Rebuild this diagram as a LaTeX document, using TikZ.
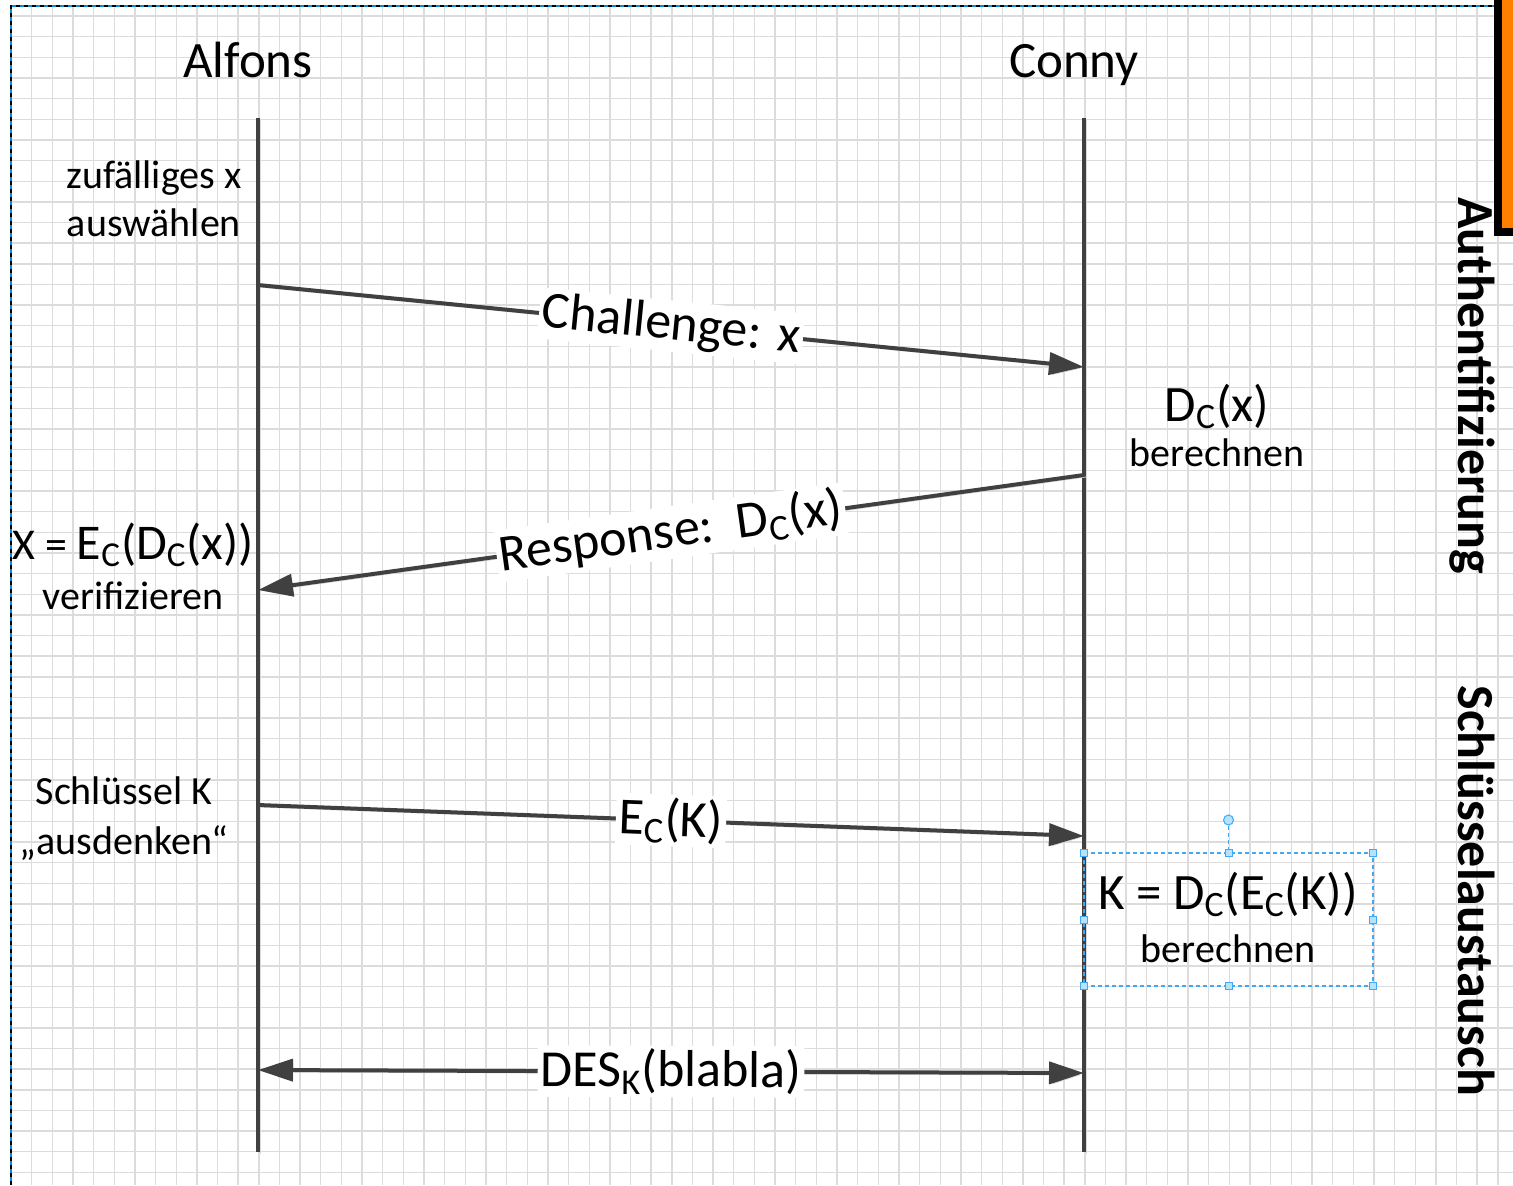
\documentclass[tikz,border=0pt]{standalone}
\usepackage{fontspec}
\setmainfont{Carlito}
\usetikzlibrary{arrows.meta}
\definecolor{lineg}{HTML}{404040}
\definecolor{gridg}{HTML}{DCDCDC}
\definecolor{selblue}{HTML}{3FA9F5}
\definecolor{handlefill}{HTML}{B8E2FA}
\definecolor{barorange}{HTML}{FF7F00}
\newcommand\sbs[1]{\textsubscript{#1}}
\begin{document}
\begin{tikzpicture}[x=0.5pt,y=-0.5pt,
  gridline/.style={draw=gridg, line width=0.7pt},
  shadowed/.style={preaction={draw=black!15, transform canvas={shift={(1pt,-1pt)}}}},
  lifeline/.style={draw=lineg, line width=2.3pt, shadowed},
  msg/.style={draw=lineg, line width=2pt, shadowed, -{Triangle[length=17.5pt,width=11pt]}},
  msgboth/.style={draw=lineg, line width=2pt, shadowed, {Triangle[length=17.5pt,width=11pt]}-{Triangle[length=17.5pt,width=11pt]}},
  lbl/.style={fill=white, inner sep=1.5pt, font=\fontsize{26}{31}\selectfont, sloped, midway},
  actor/.style={font=\fontsize{25.5}{30}\selectfont, anchor=base, inner sep=0pt},
  side/.style={align=center, inner sep=0pt, anchor=south},
  vert/.style={font=\fontsize{26}{31}\selectfont\bfseries, rotate=-90, anchor=base west, inner sep=0pt},
  handle/.style={draw=selblue, fill=handlefill, line width=0.5pt, minimum size=3.5pt, inner sep=0pt, rectangle},
  rothandle/.style={draw=selblue, fill=handlefill, line width=0.5pt, minimum size=5pt, inner sep=0pt, circle},
  selbox/.style={draw=selblue, line width=0.6pt, dash pattern=on 2pt off 1.5pt}
]
\useasboundingbox (0,0) rectangle (1513,1185);
\fill[white] (0,0) rectangle (1513,1185);
% grid
\foreach \k in {0,...,72} \draw[gridline] ({11+\k*20.65},6) -- ({11+\k*20.65},1185);
\foreach \k in {0,...,56} \draw[gridline] (11,{16+\k*20.65}) -- (1513,{16+\k*20.65});
% page border
\draw[draw=cyan!70!blue, line width=0.6pt] (11,1185) -- (11,6) -- (1494,6);
\draw[draw=black, line width=0.6pt, dash pattern=on 2pt off 2pt] (11,1185) -- (11,6) -- (1494,6);
% orange bar
\fill[black] (1494,0) rectangle (1513,236);
\fill[barorange] (1501.7,0) rectangle (1513,228);

% actors
\node[actor] (alf) at (248,77) {Alfons};
\node[actor] (con) at (1074,77) {Conny};

% lifelines
\coordinate (aTop) at (258,118);
\coordinate (aBot) at (258,1152);
\coordinate (cTop) at (1084,118);
\coordinate (cBot) at (1084,1152);
\draw[lifeline] (aTop) -- (aBot);
\draw[lifeline] (cTop) -- (cBot);

% message points
\coordinate (a1) at (258,285);
\coordinate (c1) at (1084,367);
\coordinate (c2) at (1084,475);
\coordinate (a2) at (258,590);
\coordinate (a3) at (258,805);
\coordinate (c3) at (1084,836);
\coordinate (a4) at (258,1070);
\coordinate (c4) at (1084,1073);

\draw[msg] (a1) -- node[lbl] (m1) {Challenge: x} (c1);
\draw[msg] (c2) -- node[lbl] (m2) {Response:\ \ D\sbs{C}(x)} (a2);
\draw[msg] (a3) -- node[lbl] (m3) {E\sbs{C}(K)} (c3);
\draw[msgboth] (a4) -- node[lbl] (m4) {DES\sbs{K}(blabla)} (c4);

% side texts
\node[side, font=\fontsize{20}{24}\selectfont] (t1) at (154,237) {zufälliges x\\auswählen};
\node[side, font=\fontsize{20}{25}\selectfont] (t2) at (133,610) {{\fontsize{22}{25}\selectfont X = }{\fontsize{25}{25}\selectfont E\sbs{C}(D\sbs{C}(x))}\\verifizieren};
\node[side, font=\fontsize{20}{25}\selectfont] (t3) at (124,861) {Schlüssel K\\„ausdenken“};
\node[side, font=\fontsize{20}{22.5}\selectfont] (t4) at (1217,467) {{\fontsize{25.5}{22.5}\selectfont D\sbs{C}(x)}\\berechnen};
\node[side, font=\fontsize{20}{26.5}\selectfont] (t5) at (1228,963) {{\fontsize{25.5}{26.5}\selectfont K = D\sbs{C}(E\sbs{C}(K))}\\berechnen};

% selection frame
\draw[selbox] (1084,853) rectangle (1373,986);
\node[rothandle] (rot) at (1228.5,820) {};
\draw[selbox] (rot) -- (1228.5,853);
\foreach \p [count=\i] in {(1084,853),(1228.5,853),(1373,853),(1084,919.5),(1373,919.5),(1084,986),(1228.5,986),(1373,986)}
  \node[handle] (h\i) at \p {};

% phase labels
\node[vert] (ph1) at (1458,197) {Authentifizierung};
\node[vert] (ph2) at (1458,685) {Schlüsselaustausch};
\end{tikzpicture}
\end{document}
